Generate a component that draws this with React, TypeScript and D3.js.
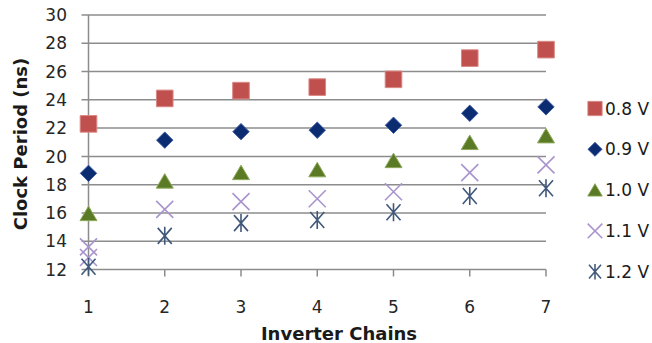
import React, { useEffect, useRef } from "react";
import * as d3 from "d3";

// Inverter chain counts on the x axis
const chains = [1, 2, 3, 4, 5, 6, 7];

// Clock period (ns) for each supply voltage, one value per chain count
const v08 = [22.3, 24.1, 24.65, 24.9, 25.45, 26.95, 27.55];
const v09 = [18.8, 21.15, 21.75, 21.85, 22.2, 23.05, 23.5];
const v10 = [15.95, 18.25, 18.85, 19.05, 19.7, 20.98, 21.45];
const v11 = [13.6, 16.25, 16.8, 17.0, 17.5, 18.85, 19.4];
const v11Extra = [[1, 12.85]]; // second 1.1 V sample at one chain
const v12 = [12.2, 14.38, 15.28, 15.5, 16.05, 17.2, 17.75];

const yTicks = [12, 14, 16, 18, 20, 22, 24, 26, 28, 30];
const legendLabels = ["0.8 V", "0.9 V", "1.0 V", "1.1 V", "1.2 V"];

type Shape = "square" | "diamond" | "triangle" | "x" | "star";

const seriesDefs: { label: string; shape: Shape; fill: string; stroke: string }[] = [
  { label: legendLabels[0], shape: "square", fill: "#C0504D", stroke: "#D98784" },
  { label: legendLabels[1], shape: "diamond", fill: "#0C2C72", stroke: "#3A57A0" },
  { label: legendLabels[2], shape: "triangle", fill: "#5B7A25", stroke: "#8DAA5A" },
  { label: legendLabels[3], shape: "x", fill: "none", stroke: "#A994CF" },
  { label: legendLabels[4], shape: "star", fill: "none", stroke: "#40587A" },
];

function markerPath(shape: Shape, cx: number, cy: number): string {
  const p = d3.path();
  if (shape === "square") {
    const h = 8.3;
    p.rect(cx - h, cy - h, 2 * h, 2 * h);
  } else if (shape === "diamond") {
    const h = 8.2;
    p.moveTo(cx, cy - h);
    p.lineTo(cx + h, cy);
    p.lineTo(cx, cy + h);
    p.lineTo(cx - h, cy);
    p.closePath();
  } else if (shape === "triangle") {
    const w = 8.5;
    p.moveTo(cx, cy - 7.5);
    p.lineTo(cx + w, cy + 7);
    p.lineTo(cx - w, cy + 7);
    p.closePath();
  } else if (shape === "x") {
    const h = 8.5;
    p.moveTo(cx - h, cy - h);
    p.lineTo(cx + h, cy + h);
    p.moveTo(cx + h, cy - h);
    p.lineTo(cx - h, cy + h);
  } else {
    const h = 8;
    const w = 7;
    p.moveTo(cx, cy - h - 1);
    p.lineTo(cx, cy + h + 1);
    p.moveTo(cx - w, cy - h);
    p.lineTo(cx + w, cy + h);
    p.moveTo(cx + w, cy - h);
    p.lineTo(cx - w, cy + h);
  }
  return p.toString();
}

export default function App() {
  const ref = useRef<SVGSVGElement>(null);

  useEffect(() => {
    const svg = d3.select(ref.current);
    svg.selectAll("*").remove();

    const x = d3.scaleLinear().domain([1, 7]).range([88.5, 546]);
    const y = d3.scaleLinear().domain([12, 30]).range([269.5, 15]);
    const font = "'DejaVu Sans', Verdana, sans-serif";
    const gridColor = "#8C8C8C";

    // horizontal gridlines (extend left past the axis as tick marks)
    svg
      .append("g")
      .selectAll("line")
      .data(yTicks)
      .join("line")
      .attr("x1", 81.5)
      .attr("x2", x(7))
      .attr("y1", (d) => y(d))
      .attr("y2", (d) => y(d))
      .attr("stroke", gridColor)
      .attr("stroke-width", 1.5);

    // vertical axis line at the first category
    svg
      .append("line")
      .attr("x1", x(1))
      .attr("x2", x(1))
      .attr("y1", y(30))
      .attr("y2", y(12) + 7)
      .attr("stroke", gridColor)
      .attr("stroke-width", 1.5);

    // x tick marks below the baseline
    svg
      .append("g")
      .selectAll("line")
      .data(chains.slice(1))
      .join("line")
      .attr("x1", (d) => x(d))
      .attr("x2", (d) => x(d))
      .attr("y1", y(12))
      .attr("y2", y(12) + 7)
      .attr("stroke", gridColor)
      .attr("stroke-width", 1.5);

    // y tick labels
    svg
      .append("g")
      .selectAll("text")
      .data(yTicks)
      .join("text")
      .attr("x", 67)
      .attr("y", (d) => y(d))
      .attr("dy", "0.36em")
      .attr("text-anchor", "end")
      .attr("font-family", font)
      .attr("font-size", 17)
      .attr("fill", "#262626")
      .text((d) => String(d));

    // x tick labels
    svg
      .append("g")
      .selectAll("text")
      .data(chains)
      .join("text")
      .attr("x", (d) => x(d))
      .attr("y", 313)
      .attr("text-anchor", "middle")
      .attr("font-family", font)
      .attr("font-size", 17)
      .attr("fill", "#262626")
      .text((d) => String(d));

    // axis titles
    svg
      .append("text")
      .attr("x", 339)
      .attr("y", 340)
      .attr("text-anchor", "middle")
      .attr("font-family", font)
      .attr("font-weight", "bold")
      .attr("font-size", 18)
      .attr("fill", "#1a1a1a")
      .text("Inverter Chains");

    svg
      .append("text")
      .attr("transform", `translate(27,144) rotate(-90)`)
      .attr("text-anchor", "middle")
      .attr("font-family", font)
      .attr("font-weight", "bold")
      .attr("font-size", 18)
      .attr("fill", "#1a1a1a")
      .text("Clock Period (ns)");

    // data points
    const seriesValues = [v08, v09, v10, v11, v12];
    seriesDefs.forEach((s, i) => {
      const pts: [number, number][] = chains.map((c, j) => [c, seriesValues[i][j]]);
      if (s.shape === "x") v11Extra.forEach((e) => pts.push([e[0], e[1]]));
      const isLine = s.fill === "none";
      svg
        .append("g")
        .selectAll("path")
        .data(pts)
        .join("path")
        .attr("d", (d) => markerPath(s.shape, x(d[0]), y(d[1])))
        .attr("fill", s.fill)
        .attr("stroke", s.stroke)
        .attr("stroke-width", isLine ? 1.6 : 1);
    });

    // legend
    const legend = svg.append("g");
    seriesDefs.forEach((s, i) => {
      const cy = 108.5 + i * 40.8;
      const isLine = s.fill === "none";
      const g = legend.append("g").attr("transform", `translate(595,${cy}) scale(0.86)`);
      g.append("path")
        .attr("d", markerPath(s.shape, 0, 0))
        .attr("fill", s.fill)
        .attr("stroke", s.stroke)
        .attr("stroke-width", isLine ? 1.8 : 1);
      legend
        .append("text")
        .attr("x", 605)
        .attr("y", cy)
        .attr("dy", "0.36em")
        .attr("font-family", font)
        .attr("font-size", 17)
        .attr("fill", "#1a1a1a")
        .text(s.label);
    });
  }, []);

  return (
    <svg
      ref={ref}
      width={652}
      height={343}
      style={{ position: "absolute", left: 0, top: 0, background: "#fff" }}
    />
  );
}
